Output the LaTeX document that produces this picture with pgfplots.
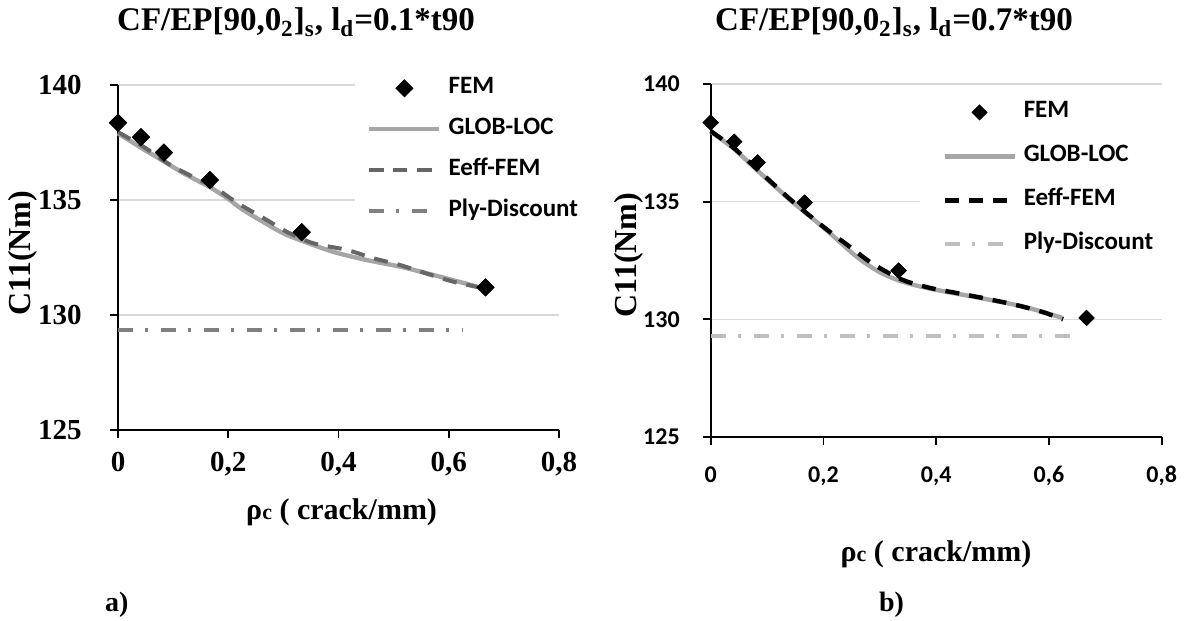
\documentclass[border=0pt]{standalone}
\usepackage{fontspec}
\setmainfont{Liberation Serif}
\newfontfamily\carlito{Carlito}
\usepackage{pgfplots}
\pgfplotsset{compat=1.18}

\definecolor{gridgray}{HTML}{D9D9D9}
\definecolor{globgray}{HTML}{A6A6A6}
\definecolor{effgray}{HTML}{666666}
\definecolor{plygray}{HTML}{808080}
\definecolor{plylight}{HTML}{BFBFBF}

\pgfplotsset{
  panel/.style={
    scale only axis,
    anchor=south west,
    xmin=0, xmax=0.8, ymin=125, ymax=140,
    xtick={0,0.2,0.4,0.6,0.8},
    ytick={125,130,135,140},
    axis lines*=left,
    axis line style={black, line width=0.9pt},
    tick style={black, line width=0.9pt},
    tick align=outside,
    major tick length=4pt,
    ymajorgrids,
    grid style={gridgray, line width=0.8pt},
    /pgf/number format/use comma,
    /pgf/number format/assume math mode=true,
    clip=false,
    legend cell align=left,
    legend image code/.code={\draw[mark repeat=2,mark phase=2,#1] plot coordinates {(0pt,0pt) (17.5pt,0pt) (35pt,0pt)};},
  },
  fem/.style={only marks, mark=square*, mark options={rotate=45, fill=black, draw=black}},
}

\begin{document}
\begin{tikzpicture}
\path[use as bounding box] (0,0) rectangle (594.5pt,310.5pt);

% ---- a) l_d = 0.1*t90
\begin{axis}[panel,
  at={(59pt,95.5pt)}, width=220.5pt, height=172.5pt,
  xticklabel style={font=\bfseries\fontsize{14.5}{17}\selectfont, anchor=north, inner sep=0pt, yshift=-6.75pt},
  yticklabel style={font=\bfseries\fontsize{14.5}{17}\selectfont, anchor=east, inner sep=0pt, xshift=-14pt},
  legend style={at={(rel axis cs:0.537,1.038)}, anchor=north west, draw=none, fill=white,
    font=\carlito\bfseries\fontsize{12.5}{14}\selectfont,
    inner xsep=6pt, inner ysep=3pt, row sep=10.5pt, column sep=3.5pt,
    nodes={inner sep=0pt, text height=7.5pt, text depth=2.5pt}},
]
\addplot[fem, mark size=3pt] coordinates {(0,138.36) (0.0417,137.73) (0.0833,137.06) (0.1667,135.87) (0.3333,133.6) (0.6667,131.2)};
\addlegendentry{FEM}
\addplot[globgray, line width=2.2pt, smooth] coordinates {
  (0,137.9) (0.04,137.3) (0.079,136.74) (0.12,136.15) (0.167,135.55) (0.2,135.05)
  (0.225,134.6) (0.27,133.95) (0.3,133.55) (0.33,133.26) (0.39,132.75) (0.451,132.39)
  (0.512,132.1) (0.572,131.74) (0.663,131.16)};
\addlegendentry{GLOB-LOC}
\addplot[effgray, line width=2pt, dash pattern=on 7pt off 5pt, smooth] coordinates {
  (0,137.95) (0.046,137.32) (0.1,136.45) (0.167,135.65) (0.191,135.29) (0.218,134.85)
  (0.27,134.13) (0.306,133.62) (0.354,133.12) (0.415,132.83) (0.463,132.47)
  (0.512,132.17) (0.56,131.8) (0.608,131.45) (0.663,131.16)};
\addlegendentry{Eeff-FEM}
\addplot[plygray, line width=2pt, dash pattern=on 7.5pt off 6pt on 1.5pt off 6.5pt] coordinates {(0,129.35) (0.625,129.35)};
\addlegendentry{Ply-Discount}
\addplot[fem, mark size=3pt, forget plot] coordinates {(0,138.36) (0.0417,137.73) (0.0833,137.06) (0.1667,135.87) (0.3333,133.6) (0.6667,131.2)};
\end{axis}

% ---- b) l_d = 0.7*t90
\begin{axis}[panel,
  at={(355.35pt,92pt)}, width=225.5pt, height=176.5pt,
  xticklabel style={font=\carlito\bfseries\fontsize{12}{14}\selectfont, anchor=north, inner sep=0pt, yshift=-10.5pt},
  yticklabel style={font=\carlito\bfseries\fontsize{12}{14}\selectfont, anchor=east, inner sep=0pt, xshift=-11.3pt},
  legend style={at={(rel axis cs:0.464,0.966)}, anchor=north west, draw=none, fill=white,
    font=\carlito\bfseries\fontsize{12.5}{14}\selectfont,
    inner xsep=11pt, inner ysep=3pt, row sep=12pt, column sep=3.5pt,
    nodes={inner sep=0pt, text height=7.5pt, text depth=2.5pt}},
]
\addplot[fem, mark size=2.65pt] coordinates {(0,138.36) (0.0417,137.55) (0.0833,136.67) (0.1667,134.96) (0.3333,132.07) (0.6667,130.06)};
\addlegendentry{FEM}
\addplot[globgray, line width=2.2pt, smooth] coordinates {
  (0,137.97) (0.04,137.27) (0.0816,136.35) (0.141,135.07) (0.17,134.5) (0.212,133.65)
  (0.259,132.66) (0.3,132.0) (0.34,131.6) (0.39,131.3) (0.466,130.96) (0.555,130.54) (0.625,130.05)};
\addlegendentry{GLOB-LOC}
\addplot[black, line width=2.2pt, dash pattern=on 7pt off 5pt, smooth] coordinates {
  (0,138.0) (0.04,137.3) (0.0816,136.4) (0.141,135.1) (0.2,133.93) (0.247,133.08)
  (0.288,132.35) (0.34,131.68) (0.39,131.33) (0.436,131.12) (0.484,130.9)
  (0.543,130.6) (0.59,130.3) (0.625,130.0)};
\addlegendentry{Eeff-FEM}
\addplot[plylight, line width=2pt, dash pattern=on 7.5pt off 6pt on 1.5pt off 6.5pt] coordinates {(0,129.3) (0.65,129.3)};
\addlegendentry{Ply-Discount}
\addplot[fem, mark size=2.65pt, forget plot] coordinates {(0,138.36) (0.0417,137.55) (0.0833,136.67) (0.1667,134.96) (0.3333,132.07) (0.6667,130.06)};
\end{axis}

% titles
\node[anchor=base, font=\bfseries\fontsize{16.5}{19}\selectfont] at (148pt,295pt)
  {CF/EP[90,0\textsubscript{2}]\textsubscript{s}, l\textsubscript{d}=0.1*t90};
\node[anchor=base, font=\bfseries\fontsize{16.5}{19}\selectfont] at (447pt,295pt)
  {CF/EP[90,0\textsubscript{2}]\textsubscript{s}, l\textsubscript{d}=0.7*t90};

% axis labels
\node[anchor=base, rotate=90, font=\bfseries\fontsize{16}{18}\selectfont] at (15.5pt,184pt) {C11(Nm)};
\node[anchor=base, rotate=90, font=\bfseries\fontsize{16}{18}\selectfont] at (318pt,183pt) {C11(Nm)};
\node[anchor=base, font=\bfseries\fontsize{15}{18}\selectfont] at (170.8pt,50.5pt) {ρ{\fontsize{11}{13}\selectfont c} ( crack/mm)};
\node[anchor=base, font=\bfseries\fontsize{15}{18}\selectfont] at (468pt,29.5pt) {ρ{\fontsize{11}{13}\selectfont c} ( crack/mm)};

% panel tags
\node[anchor=base west, font=\bfseries\fontsize{14}{17}\selectfont] at (49pt,4.5pt) {a)};
\node[anchor=base west, font=\bfseries\fontsize{14}{17}\selectfont] at (436pt,4.5pt) {b)};
\end{tikzpicture}
\end{document}
